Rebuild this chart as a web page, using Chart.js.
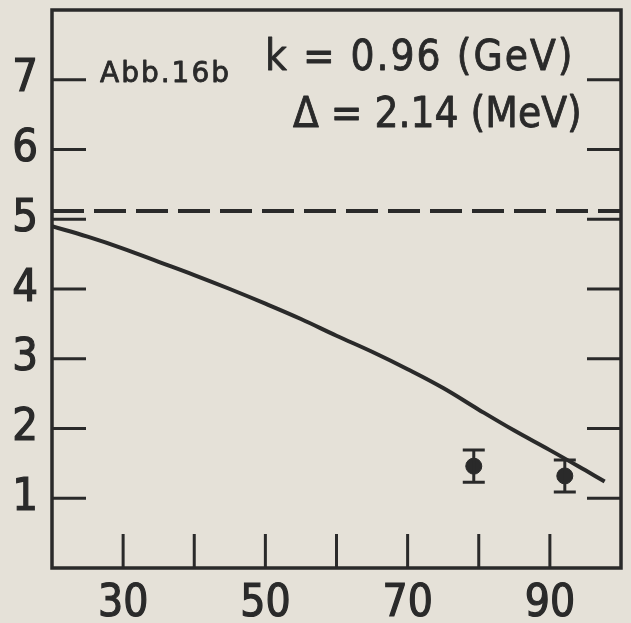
<!DOCTYPE html>
<html>
<head>
<meta charset="utf-8">
<script src="https://cdn.jsdelivr.net/npm/chart.js@4/dist/chart.umd.min.js"></script>
<style>
  html, body { margin: 0; padding: 0; background: #e5e1d8; }
</style>
</head>
<body>
<canvas id="myChart" width="631" height="623"></canvas>
<script>
// solid curve, sampled along x
const curveX = [20, 25, 30, 35, 40, 45, 50, 55, 60, 65, 70, 75, 80, 85, 90, 95, 97.7];
const curveY = [4.90, 4.75, 4.58, 4.39, 4.20, 4.00, 3.79, 3.57, 3.33, 3.10, 2.85, 2.58, 2.27, 1.97, 1.69, 1.40, 1.24];

// dashed constant level
const levelX = [20, 100];
const levelY = [5.12, 5.12];

// measured points with error bars
const pointX = [79.3, 92.1];
const pointY = [1.46, 1.32];
const pointErr = [0.23, 0.23];

// axis ticks and labels
const xTicks = [30, 40, 50, 60, 70, 80, 90];
const xTickLabels = ["30", "", "50", "", "70", "", "90"];
const yTicks = [1, 2, 3, 4, 5, 6, 7];
const yTickLabels = ["1", "2", "3", "4", "5", "6", "7"];

const ink = "#2a2a2a";
const paper = "#e5e1d8";
const fontFamily = '"DejaVu Sans Condensed", "Liberation Sans Narrow", "DejaVu Sans", sans-serif';
const wideFamily = '"DejaVu Sans", sans-serif';

const toPoints = (xs, ys) => xs.map((x, i) => ({ x: x, y: ys[i] }));

// filled text with a thin outline so it reads a little heavier
function boldText(ctx, text, x, y) {
  ctx.fillText(text, x, y);
  ctx.strokeText(text, x, y);
}

// paper background + frame, inward ticks, notes and error bars
const framePlugin = {
  id: "frame",
  beforeDraw(chart) {
    const ctx = chart.ctx;
    ctx.save();
    ctx.fillStyle = paper;
    ctx.fillRect(0, 0, chart.width, chart.height);
    ctx.restore();
  },
  afterDatasetsDraw(chart) {
    const ctx = chart.ctx;
    const xs = chart.scales.x;
    const ys = chart.scales.y;
    const a = chart.chartArea;
    ctx.save();
    ctx.strokeStyle = ink;
    ctx.fillStyle = ink;

    // error bars
    ctx.lineWidth = 3;
    pointX.forEach((x, i) => {
      const px = xs.getPixelForValue(x);
      const top = ys.getPixelForValue(pointY[i] + pointErr[i]);
      const bot = ys.getPixelForValue(pointY[i] - pointErr[i]);
      ctx.beginPath();
      ctx.moveTo(px, top); ctx.lineTo(px, bot);
      ctx.moveTo(px - 11, top); ctx.lineTo(px + 11, top);
      ctx.moveTo(px - 11, bot); ctx.lineTo(px + 11, bot);
      ctx.stroke();
    });

    // frame (no top ticks)
    ctx.lineWidth = 3.5;
    ctx.strokeRect(a.left, a.top, a.right - a.left, a.bottom - a.top);

    // inward ticks
    ctx.lineWidth = 3;
    ctx.beginPath();
    yTicks.forEach((v) => {
      const py = ys.getPixelForValue(v);
      ctx.moveTo(a.left, py); ctx.lineTo(a.left + 34, py);
      ctx.moveTo(a.right - 34, py); ctx.lineTo(a.right, py);
    });
    xTicks.forEach((v) => {
      const px = xs.getPixelForValue(v);
      ctx.moveTo(px, a.bottom); ctx.lineTo(px, a.bottom - 34);
    });
    ctx.stroke();

    // notes
    ctx.lineWidth = 0.8;
    ctx.lineJoin = "round";
    ctx.textBaseline = "alphabetic";
    ctx.textAlign = "left";
    ctx.font = "28px " + wideFamily;
    ctx.letterSpacing = "2px";
    boldText(ctx, "Abb.16b", 100, 82);
    ctx.font = "42px " + fontFamily;
    ctx.letterSpacing = "2px";
    boldText(ctx, "k = 0.96 (GeV)", 265, 70);
    ctx.letterSpacing = "0px";
    boldText(ctx, "\u0394 = 2.14 (MeV)", 293, 127);
    ctx.restore();
  },
};

const tickFont = (size) => ({ family: fontFamily, size: size });

const ctx = document.getElementById("myChart").getContext("2d");
const myChart = new Chart(ctx, {
  type: "scatter",
  data: {
    datasets: [
      {
        label: "curve",
        data: toPoints(curveX, curveY),
        showLine: true,
        borderColor: ink,
        borderWidth: 4,
        pointRadius: 0,
        tension: 0.4,
      },
      {
        label: "level",
        data: toPoints(levelX, levelY),
        showLine: true,
        borderColor: ink,
        borderWidth: 4,
        borderDash: [32, 10],
        pointRadius: 0,
      },
      {
        label: "data",
        data: toPoints(pointX, pointY),
        showLine: false,
        pointRadius: 8,
        pointBackgroundColor: ink,
        pointBorderColor: ink,
      },
    ],
  },
  options: {
    responsive: false,
    animation: false,
    layout: { padding: { top: 10, right: 10, left: 0, bottom: 0 } },
    plugins: { legend: { display: false }, tooltip: { enabled: false } },
    scales: {
      x: {
        type: "linear",
        min: 20,
        max: 100,
        grid: { display: false, drawTicks: false },
        border: { display: false },
        afterBuildTicks: (scale) => {
          scale.ticks = xTicks.map((v) => ({ value: v }));
        },
        afterFit: (scale) => {
          scale.height = 55;
          scale.paddingLeft = 0;
          scale.paddingRight = 0;
        },
        ticks: {
          color: ink,
          textStrokeColor: ink,
          textStrokeWidth: 1.2,
          padding: 10,
          maxRotation: 0,
          autoSkip: false,
          font: tickFont(44),
          callback: (v) => xTickLabels[xTicks.indexOf(v)] || "",
        },
      },
      y: {
        min: 0,
        max: 8,
        grid: { display: false, drawTicks: false },
        border: { display: false },
        afterBuildTicks: (scale) => {
          scale.ticks = yTicks.map((v) => ({ value: v }));
        },
        afterFit: (scale) => {
          scale.width = 52;
          scale.paddingTop = 0;
          scale.paddingBottom = 0;
        },
        ticks: {
          color: ink,
          textStrokeColor: ink,
          textStrokeWidth: 1.2,
          padding: 14,
          autoSkip: false,
          font: tickFont(45),
          callback: (v) => yTickLabels[yTicks.indexOf(v)] || "",
        },
      },
    },
  },
  plugins: [framePlugin],
});
</script>
</body>
</html>
